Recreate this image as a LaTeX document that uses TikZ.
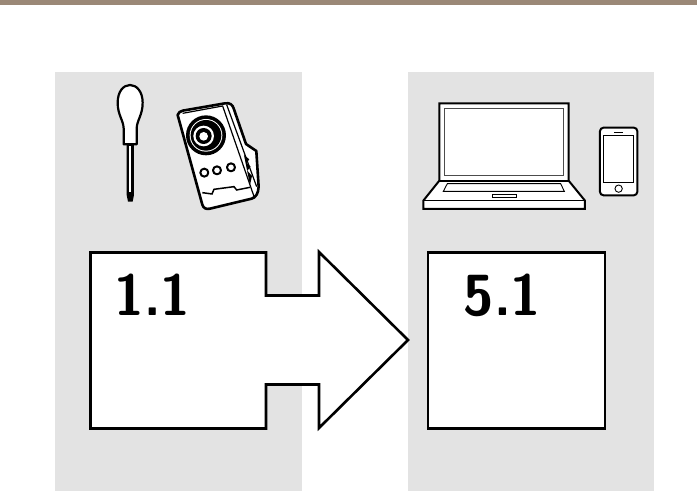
\documentclass[tikz,border=0pt]{standalone}
\definecolor{topbar}{HTML}{9B8877}
\definecolor{panel}{HTML}{E3E3E3}
\tikzset{
  ink/.style={draw=black,line join=miter,line width=2pt},
  icon/.style={draw=black,fill=white,line width=1.6pt,line join=round},
  thinline/.style={draw=black,line width=.9pt},
  label/.style={font=\sffamily\bfseries\fontsize{58}{58}\selectfont,inner sep=0pt,anchor=base west}
}
\begin{document}
\begin{tikzpicture}[x=1pt,y=-1pt]
\useasboundingbox (0,0) rectangle (697,492);
\fill[white] (0,0) rectangle (697,492);
\fill[topbar] (0,0) rectangle (697,5.5);
\fill[panel] (55,72) rectangle (302,491);
\fill[panel] (408,72) rectangle (654,491);
% arrow shape
\draw[ink,fill=white,line width=2.6pt] (90.5,252.5) -- (266,252.5) -- (266,295.5) -- (319,295.5) -- (319,252) -- (408,340) -- (319,428) -- (319,384.5) -- (266,384.5) -- (266,428.5) -- (90.5,428.5) -- cycle;
\draw[ink,fill=white,line width=2.6pt] (428,252.5) rectangle (605,428.5);
\node[label] (one) at (114.5,316) {\scalebox{.93}[1]{1.1}};
\node[label] (five) at (463.5,316) {\scalebox{.95}[1]{5.1}};
% screwdriver
\begin{scope}[shift={(90,70)},x=.3333pt,y=-.3333pt]
\draw[icon,line width=2.2pt] (101,223) -- (101,175) .. controls (100,150) and (83,135) .. (83,98) .. controls (83,65) and (100,45) .. (120,45) .. controls (140,45) and (158,65) .. (158,98) .. controls (158,135) and (141,150) .. (140,175) -- (140,223) -- cycle;
\fill[black] (110,225) -- (132,225) -- (132,375) -- (128,395) -- (114,395) -- (110,375) -- cycle;
\fill[white] (118,228) rectangle (124,365);
% camera
\draw[icon,line width=2.6pt] (263,135) .. controls (265,128) and (270,124) .. (278,122) -- (405,100) .. controls (420,98) and (428,103) .. (432,118) -- (468,222) -- (499,243) -- (506,350) .. controls (505,370) and (498,382) .. (485,386) -- (360,416) .. controls (348,419) and (340,414) .. (337,404) -- cycle;
\draw[thinline,line width=1.2pt] (278,130) -- (398,108) -- (494,385);
\draw[thinline,line width=1.2pt] (410,104) -- (500,350);
\fill[black] (462,255) -- (478,268) -- (470,278) -- (482,290) -- (472,302) -- (486,318) -- (480,345) -- cycle;
\draw[thinline,line width=1.5pt] (337,368) -- (366,372) -- (372,358) -- (432,350) -- (440,360) -- (480,352);
\fill[black] (348,196) circle [radius=60];
\fill[white] (348,196) circle [radius=49];
\fill[black] (348,196) circle [radius=46];
\fill[white] (341,198) circle [radius=31];
\fill[black] (341,198) circle [radius=24];
\fill[white] (341,199) circle [radius=13];
\draw[icon,line width=2pt] (343,308) circle [radius=12];
\draw[icon,line width=2pt] (381,301) circle [radius=12];
\draw[icon,line width=2pt] (423,292) circle [radius=12];
\end{scope}
% laptop and phone
\begin{scope}[shift={(410,90)},x=.3333pt,y=-.3333pt]
\draw[icon,line width=2pt,line join=miter] (88,272) -- (88,40) -- (476,40) -- (476,272) -- (525,332) -- (525,357) -- (40,357) -- (40,332) -- cycle;
\draw[draw=black,line width=1.3pt] (40,332) -- (525,332);
\draw[draw=black,line width=2pt] (88,272) -- (476,272);
\draw[draw=black!70,line width=1pt] (105,56) rectangle (460,256);
\draw[thinline] (112,281) -- (452,281) -- (463,304) -- (100,304) -- cycle;
\draw[thinline] (247,313) rectangle (318,323);
\draw[icon,line width=2pt,rounded corners=3.5pt] (570,113) rectangle (682,316);
\draw[thinline] (581,136) rectangle (671,278);
\draw[thinline] (612,126) -- (638,126);
\draw[thinline] (626,296) circle [radius=11];
\end{scope}
\end{tikzpicture}
\end{document}
